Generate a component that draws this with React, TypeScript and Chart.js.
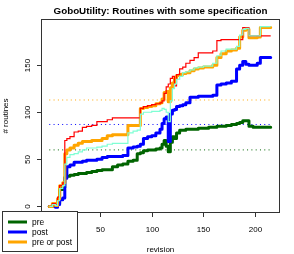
import React, { useEffect, useRef } from "react";
import { Chart, registerables } from "chart.js";

Chart.register(...registerables);

const FONT = '"Liberation Sans", Arial, Helvetica, sans-serif';

// revision numbers (x) at which the series values are sampled (value holds until next revision)
const revisions = [
  1, 4, 7, 9, 11, 14, 16, 18, 21, 25, 29, 33, 37, 42, 47, 52, 57, 62, 67, 72,
  77, 82, 86, 89, 92, 96, 100, 104, 108, 110, 112, 114, 116, 118, 120, 122, 124, 127, 130, 133,
  137, 141, 145, 150, 155, 159, 163, 167, 172, 177, 182, 185, 188, 191, 194, 198, 202, 205, 210, 215,
];

const preValues = [
  0, 2, 0, 3, 18, 20, 31, 32, 33, 34, 35, 35, 36, 37, 38, 39, 39, 42, 44, 45,
  48, 49, 56, 57, 59, 60, 60, 61, 62, 66, 70, 64, 58, 68, 74, 72, 78, 81, 81, 82,
  82, 82, 83, 83, 84, 84, 85, 85, 86, 87, 88, 89, 91, 91, 85, 84, 84, 84, 84, 84,
];

const postValues = [
  0, 1, -1, 2, 7, 9, 30, 42, 44, 47, 47, 48, 49, 49, 50, 52, 53, 53, 53, 54,
  62, 63, 64, 66, 72, 74, 75, 78, 82, 88, 93, 95, 69, 98, 102, 103, 106, 107, 108, 110,
  116, 116, 117, 117, 117, 118, 129, 130, 131, 133, 146, 150, 154, 151, 150, 150, 152, 158, 158, 158,
];

const preOrPostValues = [
  0, 3, 1, 8, 22, 25, 56, 60, 62, 65, 67, 69, 69, 70, 70, 72, 75, 76, 76, 76,
  86, 86, 86, 104, 105, 106, 107, 109, 110, 114, 121, 122, 111, 126, 131, 136, 139, 140, 141, 142,
  144, 146, 147, 148, 148, 150, 158, 162, 165, 166, 168, 180, 187, 188, 179, 179, 180, 190, 190, 190,
];

const redValues = [
  0, 3, 2, 10, 22, 25, 70, 72, 74, 79, 80, 84, 85, 86, 90, 90, 92, 94, 94, 94,
  94, 94, 94, 104, 106, 107, 108, 109, 110, 112, 120, 127, 130, 136, 138, 128, 140, 146, 148, 152,
  155, 158, 163, 163, 163, 165, 176, 177, 177, 177, 177, 177, 190, 190, 181, 181, 181, 181, 181, 181,
];

const aquaValues = [
  0, 2, 1, 6, 19, 22, 45, 52, 55, 56, 58, 60, 62, 62, 63, 64, 66, 67, 67, 67,
  78, 80, 81, 98, 100, 100, 101, 101, 102, 104, 103, 100, 90, 112, 125, 130, 135, 138, 142, 143,
  145, 147, 148, 149, 149, 152, 160, 165, 167, 167, 170, 182, 188, 189, 181, 181, 181, 191, 191, 191,
];

// dotted reference levels: pre, post, pre or post
const thresholdValues = [60, 87, 113];
const thresholdRange = [1, 215];

const legendLabels = ["pre", "post", "pre or post"];
const seriesColors = ["#006400", "#0000FF", "#FFA500"];
const redColor = "#FF0000";
const aquaColor = "#7FFFD4";

const xTicks = [0, 50, 100, 150, 200];
const yTicks = [0, 50, 100, 150];

const titleText = "GoboUtility: Routines with some specification";
const xLabel = "revision";
const yLabel = "# routines";

const toPoints = (vals: number[]) => revisions.map((r, i) => ({ x: r, y: vals[i] }));

const chromePlugin = {
  id: "rchrome",
  afterDraw(chart: any) {
    const ctx: CanvasRenderingContext2D = chart.ctx;
    const { left, top, right, bottom } = chart.chartArea;
    const xs = chart.scales.x;
    const ys = chart.scales.y;
    ctx.save();
    // box
    ctx.strokeStyle = "#333";
    ctx.lineWidth = 1;
    ctx.strokeRect(Math.round(left) + 0.5, Math.round(top) + 0.5, Math.round(right - left) - 1, Math.round(bottom - top) - 1);
    ctx.fillStyle = "#000";
    // x ticks
    ctx.font = `8px ${FONT}`;
    ctx.textAlign = "center";
    ctx.textBaseline = "alphabetic";
    for (const v of xTicks) {
      const px = Math.round(xs.getPixelForValue(v)) + 0.5;
      ctx.beginPath();
      ctx.moveTo(px, bottom);
      ctx.lineTo(px, bottom + 4);
      ctx.stroke();
      ctx.fillText(String(v), px, bottom + 18.5);
    }
    // y ticks
    for (const v of yTicks) {
      const py = Math.round(ys.getPixelForValue(v)) + 0.5;
      ctx.beginPath();
      ctx.moveTo(left - 4, py);
      ctx.lineTo(left, py);
      ctx.stroke();
      ctx.save();
      ctx.translate(left - 11, py);
      ctx.rotate(-Math.PI / 2);
      ctx.fillText(String(v), 0, 0);
      ctx.restore();
    }
    // title
    ctx.font = `bold 9.8px ${FONT}`;
    ctx.fillText(titleText, (left + right) / 2, top - 5.5);
    // axis labels
    ctx.font = `8px ${FONT}`;
    ctx.fillText(xLabel, (left + right) / 2, bottom + 38.5);
    ctx.save();
    ctx.translate(7.5, (top + bottom) / 2);
    ctx.rotate(-Math.PI / 2);
    ctx.fillText(yLabel, 0, 0);
    ctx.restore();
    // legend
    const lx = 2.5, ly = 211.5, lw = 75, lh = 40;
    ctx.fillStyle = "#fff";
    ctx.fillRect(lx, ly, lw, lh);
    ctx.strokeStyle = "#333";
    ctx.strokeRect(lx, ly, lw, lh);
    ctx.font = `8.4px ${FONT}`;
    ctx.textAlign = "left";
    legendLabels.forEach((lab, i) => {
      const ry = 222 + i * 10;
      ctx.strokeStyle = seriesColors[i];
      ctx.lineWidth = 3;
      ctx.beginPath();
      ctx.moveTo(8, ry);
      ctx.lineTo(27, ry);
      ctx.stroke();
      ctx.fillStyle = "#000";
      ctx.fillText(lab, 32, ry + 3);
    });
    ctx.restore();
  },
};

export default function App() {
  const ref = useRef<HTMLCanvasElement | null>(null);
  useEffect(() => {
    if (!ref.current) return;
    const thick = (label: string, vals: number[], color: string) => ({
      label,
      data: toPoints(vals),
      borderColor: color,
      borderWidth: 3,
      pointRadius: 0,
      stepped: true,
      fill: false,
      borderCapStyle: "round",
      borderJoinStyle: "round",
    });
    const thin = (label: string, vals: number[], color: string) => ({
      label,
      data: toPoints(vals),
      borderColor: color,
      borderWidth: 1.2,
      pointRadius: 0,
      stepped: true,
      fill: false,
    });
    const dotted = (label: string, v: number, color: string) => ({
      label,
      data: thresholdRange.map((x) => ({ x, y: v })),
      borderColor: color,
      borderWidth: 1,
      borderDash: [1, 3.3],
      pointRadius: 0,
      fill: false,
    });
    const chart = new Chart(ref.current, {
      type: "line",
      data: {
        datasets: [
          thin("aqua", aquaValues, aquaColor),
          thin("red", redValues, redColor),
          thick(legendLabels[2], preOrPostValues, seriesColors[2]),
          thick(legendLabels[1], postValues, seriesColors[1]),
          thick(legendLabels[0], preValues, seriesColors[0]),
          dotted("t-prepost", thresholdValues[2], seriesColors[2]),
          dotted("t-post", thresholdValues[1], seriesColors[1]),
          dotted("t-pre", thresholdValues[0], seriesColors[0]),
        ] as any,
      },
      options: {
        animation: false,
        responsive: false,
        devicePixelRatio: 1,
        layout: { padding: { left: 41, top: 19, right: 14, bottom: 41 } },
        plugins: { legend: { display: false }, tooltip: { enabled: false }, title: { display: false } },
        scales: {
          x: { type: "linear", min: -7, max: 224, display: false },
          y: { type: "linear", min: -7, max: 199, display: false },
        },
        elements: { line: { tension: 0 } },
      },
      plugins: [chromePlugin],
    } as any);
    return () => chart.destroy();
  }, []);
  return (
    <div style={{ position: "fixed", left: 0, top: 0, width: 294, height: 254, background: "#fff" }}>
      <canvas ref={ref} width={294} height={254} style={{ display: "block" }} />
    </div>
  );
}
